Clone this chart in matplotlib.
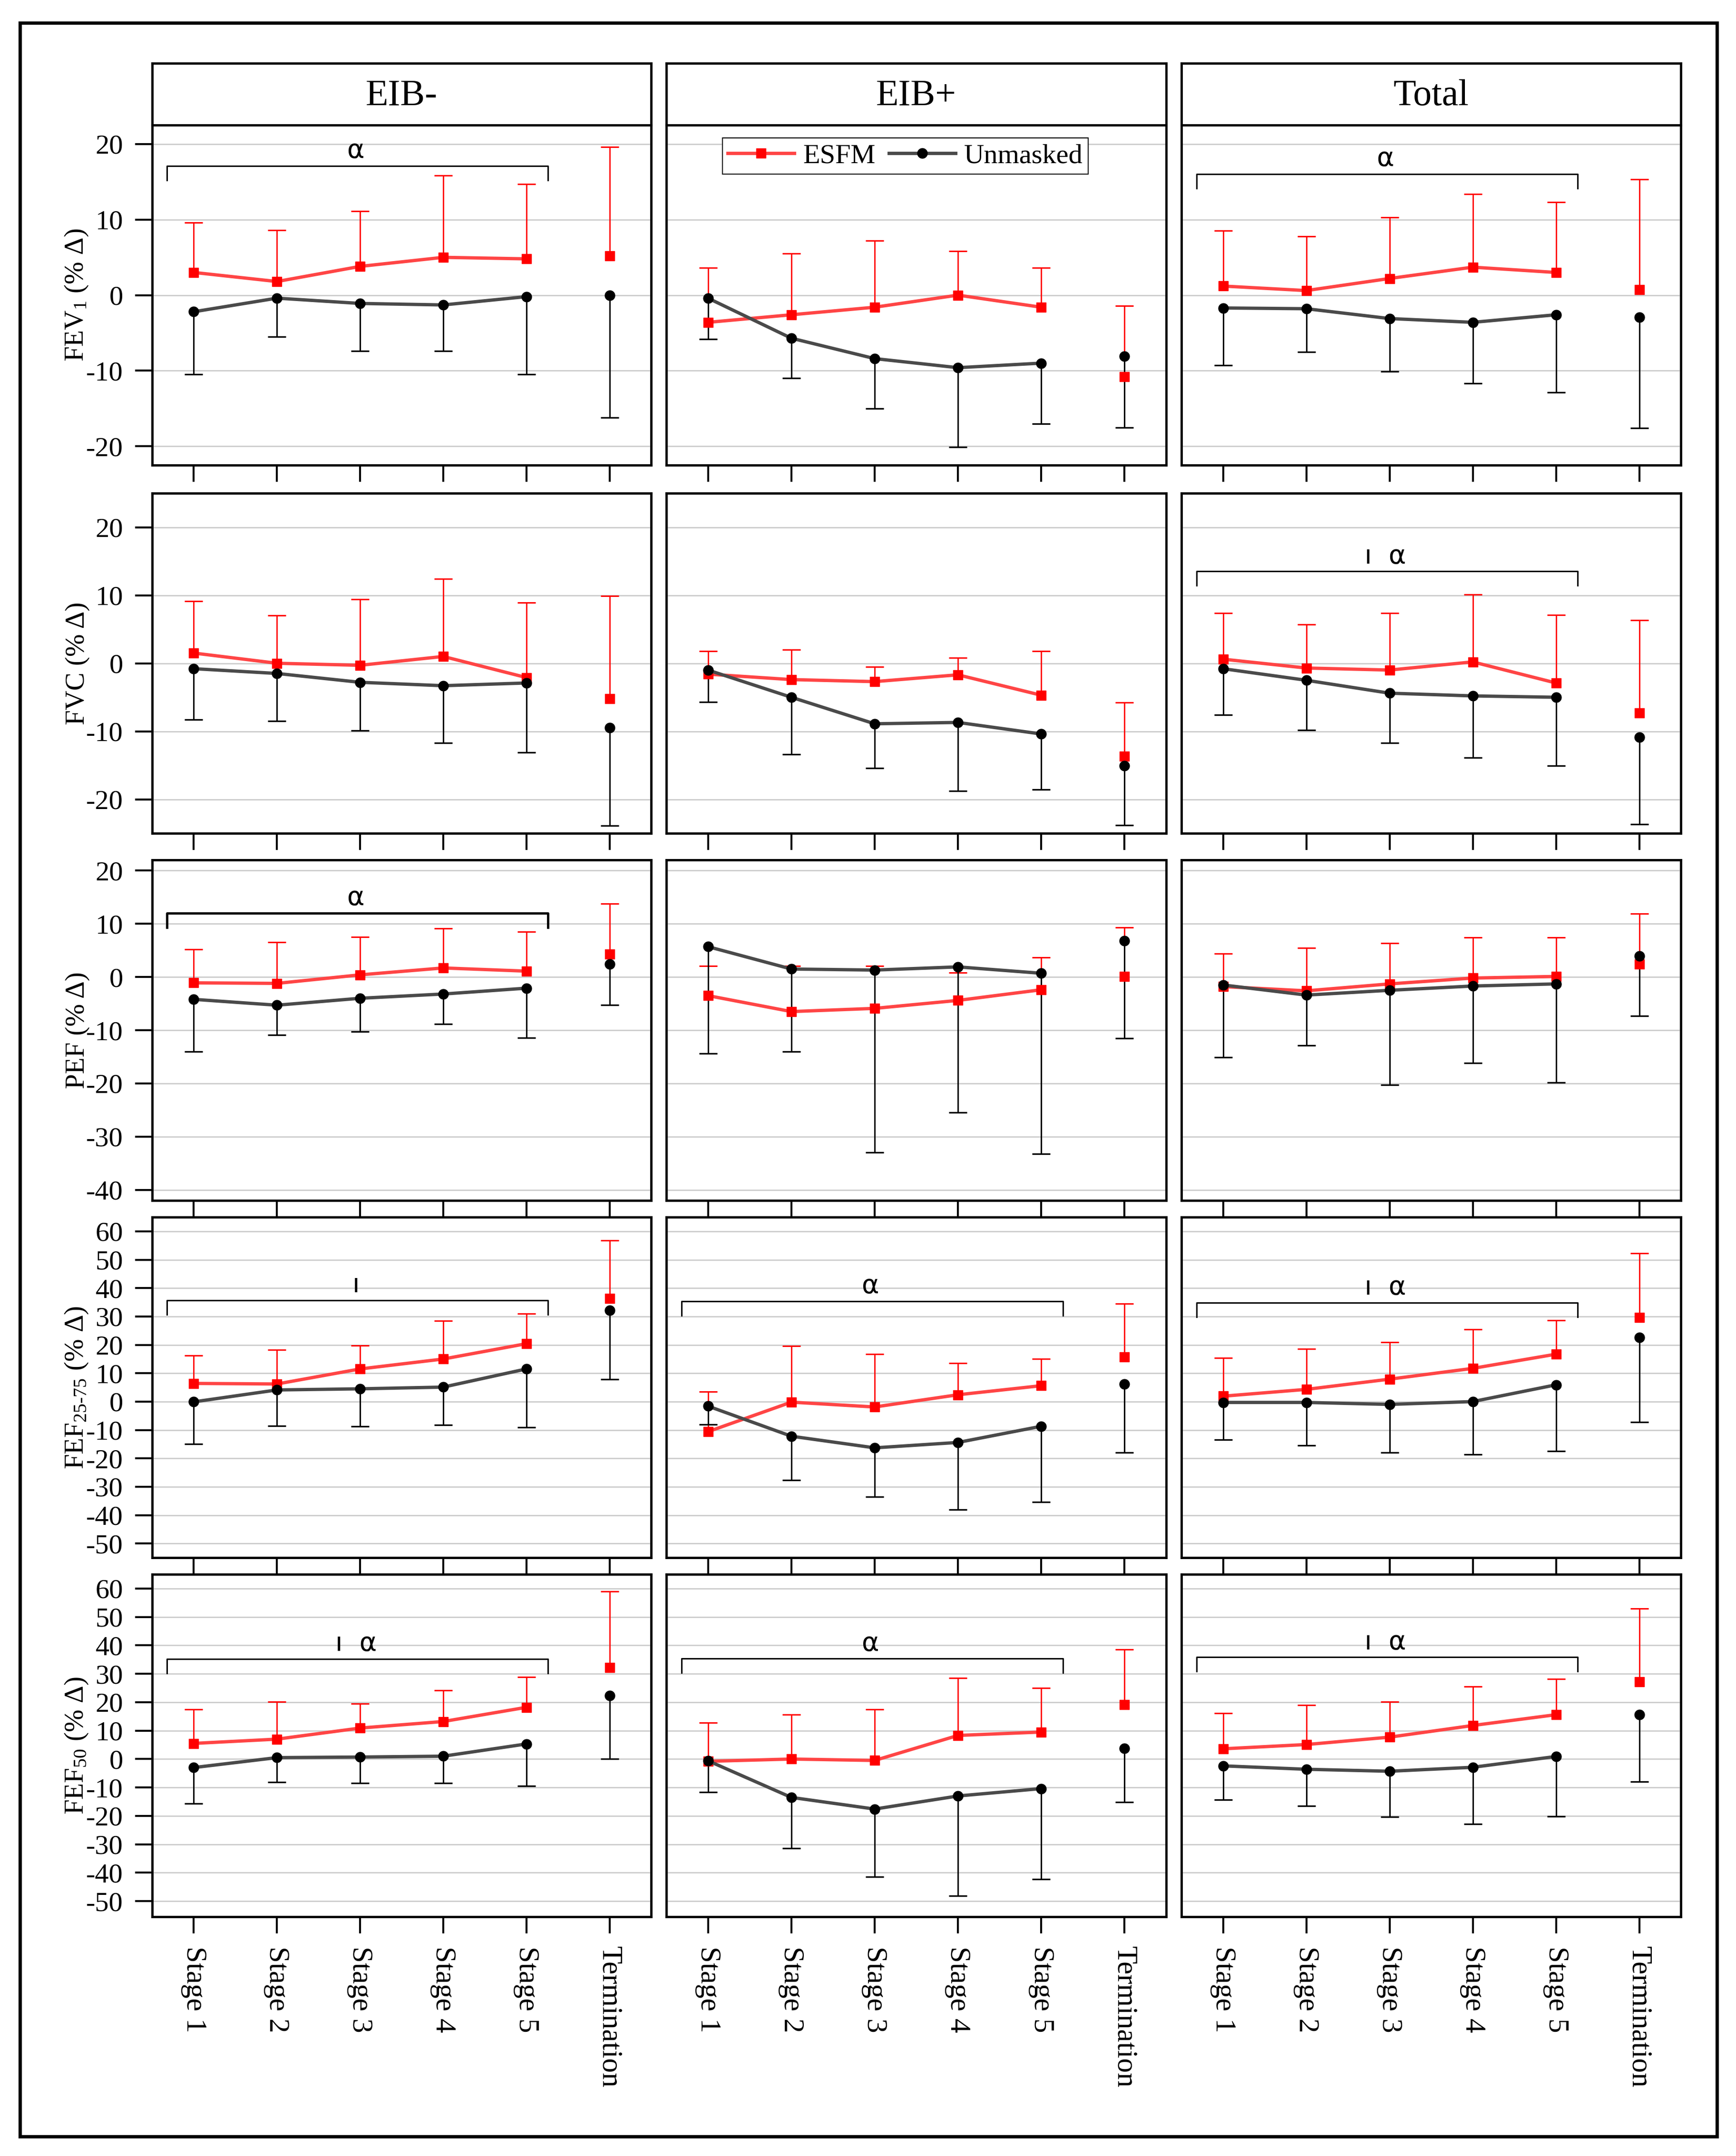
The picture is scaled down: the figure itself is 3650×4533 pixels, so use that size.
"""
Spirometry change from baseline by exercise stage: ESFM vs unmasked
"""

import matplotlib
matplotlib.use('Agg')
import matplotlib.pyplot as plt
from matplotlib.patches import Rectangle
import numpy as np

plt.rcParams.update({
    'font.family': ['Liberation Serif', 'DejaVu Sans'],
    'mathtext.fontset': 'custom',
    'mathtext.rm': 'Liberation Serif',
    'mathtext.it': 'Liberation Serif:italic',
    'axes.unicode_minus': False,
})

stages = ['Stage 1', 'Stage 2', 'Stage 3', 'Stage 4', 'Stage 5', 'Termination']
groups = ['EIB-', 'EIB+', 'Total']

# each measure: [EIB-, EIB+, Total], six values per group (5 stages + termination)
# ESFM means and upper error-bar ends, Unmasked means and lower error-bar ends
fev1_esfm = [[3.0, 1.8, 3.8, 5.0, 4.8, 5.2],
             [-3.6, -2.6, -1.6, 0.0, -1.6, -10.8],
             [1.2, 0.6, 2.2, 3.7, 3.0, 0.7]]
fev1_esfm_hi = [[9.6, 8.6, 11.1, 15.8, 14.7, 19.6],
                [3.6, 5.5, 7.2, 5.8, 3.6, -1.4],
                [8.5, 7.8, 10.3, 13.4, 12.3, 15.3]]
fev1_unm = [[-2.2, -0.4, -1.1, -1.3, -0.2, 0.0],
            [-0.4, -5.7, -8.4, -9.6, -9.0, -8.1],
            [-1.7, -1.8, -3.1, -3.6, -2.6, -2.9]]
fev1_unm_lo = [[-10.5, -5.5, -7.4, -7.4, -10.5, -16.2],
               [-5.8, -11.0, -15.0, -20.1, -17.0, -17.5],
               [-9.3, -7.5, -10.1, -11.7, -12.9, -17.6]]

fvc_esfm = [[1.5, 0.0, -0.3, 1.0, -2.1, -5.2],
            [-1.6, -2.4, -2.7, -1.7, -4.7, -13.7],
            [0.6, -0.7, -1.0, 0.2, -2.9, -7.3]]
fvc_esfm_hi = [[9.1, 7.0, 9.4, 12.4, 8.9, 9.9],
               [1.8, 2.0, -0.5, 0.8, 1.8, -5.8],
               [7.4, 5.7, 7.4, 10.1, 7.1, 6.3]]
fvc_unm = [[-0.8, -1.5, -2.8, -3.3, -2.9, -9.5],
           [-1.0, -5.0, -8.9, -8.7, -10.4, -15.1],
           [-0.8, -2.5, -4.4, -4.8, -5.0, -10.9]]
fvc_unm_lo = [[-8.3, -8.5, -9.9, -11.7, -13.1, -23.9],
              [-5.7, -13.4, -15.4, -18.8, -18.6, -23.8],
              [-7.6, -9.8, -11.7, -13.9, -15.1, -23.7]]

pef_esfm = [[-1.1, -1.2, 0.4, 1.7, 1.1, 4.3],
            [-3.5, -6.5, -5.9, -4.4, -2.4, 0.1],
            [-1.8, -2.6, -1.3, -0.2, 0.1, 2.4]]
pef_esfm_hi = [[5.2, 6.5, 7.5, 9.1, 8.5, 13.8],
               [2.1, 2.1, 2.1, 0.8, 3.7, 9.3],
               [4.4, 5.5, 6.4, 7.4, 7.4, 11.9]]
pef_unm = [[-4.2, -5.3, -4.0, -3.2, -2.1, 2.4],
           [5.7, 1.5, 1.3, 1.9, 0.7, 6.8],
           [-1.5, -3.4, -2.5, -1.7, -1.3, 3.9]]
pef_unm_lo = [[-14.0, -10.9, -10.3, -8.8, -11.4, -5.3],
              [-14.4, -14.0, -33.0, -25.5, -33.2, -11.5],
              [-15.1, -12.9, -20.3, -16.2, -19.8, -7.3]]

fef2575_esfm = [[6.4, 6.2, 11.5, 15.0, 20.4, 36.3],
                [-10.6, -0.2, -1.9, 2.4, 5.6, 15.7],
                [1.9, 4.3, 7.9, 11.7, 16.7, 29.7]]
fef2575_esfm_hi = [[16.3, 18.2, 19.8, 28.4, 30.9, 56.8],
                   [3.5, 19.6, 16.8, 13.6, 15.1, 34.5],
                   [15.4, 18.6, 21.0, 25.5, 28.6, 52.3]]
fef2575_unm = [[-0.1, 4.1, 4.5, 5.1, 11.5, 32.1],
               [-1.6, -12.2, -16.3, -14.4, -8.7, 6.1],
               [-0.3, -0.3, -1.0, 0.0, 5.9, 22.6]]
fef2575_unm_lo = [[-15.0, -8.5, -8.8, -8.3, -9.1, 7.8],
                  [-8.0, -27.6, -33.5, -38.1, -35.4, -17.9],
                  [-13.5, -15.4, -18.0, -18.6, -17.5, -7.2]]

fef50_esfm = [[5.5, 7.0, 10.9, 13.2, 18.2, 32.2],
              [-0.8, 0.0, -0.5, 8.3, 9.5, 19.2],
              [3.6, 5.1, 7.7, 11.8, 15.6, 27.1]]
fef50_esfm_hi = [[17.5, 20.2, 19.4, 24.1, 28.9, 58.9],
                 [12.8, 15.7, 17.5, 28.5, 25.0, 38.5],
                 [16.2, 18.9, 20.2, 25.5, 28.2, 53.0]]
fef50_unm = [[-3.0, 0.5, 0.7, 1.0, 5.3, 22.3],
             [-0.6, -13.5, -17.6, -13.0, -10.4, 3.7],
             [-2.4, -3.6, -4.3, -2.9, 0.9, 15.7]]
fef50_unm_lo = [[-15.7, -8.2, -8.4, -8.5, -9.4, 0.0],
                [-11.7, -31.4, -41.5, -48.1, -42.3, -15.2],
                [-14.4, -16.5, -20.4, -22.9, -20.2, -7.9]]

ylabels = ['FEV$_{1}$ (% Δ)', 'FVC (% Δ)', 'PEF (% Δ)',
           'FEF$_{\\text{25-75}}$ (% Δ)', 'FEF$_{50}$ (% Δ)']
ylims = [(-22.5, 22.5), (-25, 25), (-42, 22), (-55, 65), (-55.5, 65)]
yticks = [range(-20, 21, 10), range(-20, 21, 10), range(-40, 21, 10),
          range(-50, 61, 10), range(-50, 61, 10)]

# significance brackets: (row, col, label, bracket height, bold)
brackets = [(0, 0, 'α', 17.1, False), (0, 2, 'α', 16.0, False),
            (1, 2, 'ı  α', 13.5, False), (2, 0, 'α', 12.0, True),
            (3, 0, 'ı', 35.7, False), (3, 1, 'α', 35.3, False),
            (3, 2, 'ı  α', 34.8, False), (4, 0, 'ı  α', 35.2, False),
            (4, 1, 'α', 35.3, False), (4, 2, 'ı  α', 35.8, False)]

measures = [
    (fev1_esfm, fev1_esfm_hi, fev1_unm, fev1_unm_lo),
    (fvc_esfm, fvc_esfm_hi, fvc_unm, fvc_unm_lo),
    (pef_esfm, pef_esfm_hi, pef_unm, pef_unm_lo),
    (fef2575_esfm, fef2575_esfm_hi, fef2575_unm, fef2575_unm_lo),
    (fef50_esfm, fef50_esfm_hi, fef50_unm, fef50_unm_lo),
]

W, H = 3650, 4533
fig = plt.figure(figsize=(W / 100, H / 100), dpi=100)

col_x = [(320, 1369), (1401, 2452), (2484, 3534)]
row_y = [(263, 978), (1037, 1752), (1808, 2524), (2559, 3275), (3310, 4030)]


def rect(x0, x1, y0, y1):
    return [x0 / W, 1 - y1 / H, (x1 - x0) / W, (y1 - y0) / H]


# outer frame
fig.add_artist(Rectangle((42 / W, 1 - 4492 / H), (3610 - 42) / W, (4492 - 48) / H,
                         transform=fig.transFigure, fill=False, lw=5, ec='black'))

# column headers
for c, name in enumerate(groups):
    hx = fig.add_axes(rect(col_x[c][0], col_x[c][1], 133, 263))
    hx.set_xticks([])
    hx.set_yticks([])
    for s in hx.spines.values():
        s.set_linewidth(3.5)
    hx.text(0.5, 0.47, name, ha='center', va='center', fontsize=56, transform=hx.transAxes)

x = np.arange(len(stages))
red_line = '#ff4545'
grey_line = '#4a4a4a'

for r, (esfm, esfm_hi, unm, unm_lo) in enumerate(measures):
    for c in range(3):
        ax = fig.add_axes(rect(col_x[c][0], col_x[c][1], row_y[r][0], row_y[r][1]))
        e = np.array(esfm[c])
        eh = np.array(esfm_hi[c])
        u = np.array(unm[c])
        ul = np.array(unm_lo[c])

        # error bars (ESFM up, Unmasked down)
        ax.vlines(x, e, eh, color='red', lw=2, zorder=2)
        ax.plot(x, eh, ls='none', marker='_', ms=27, mew=2.2, color='red', zorder=2)
        ax.vlines(x, ul, u, color='black', lw=2.2, zorder=2)
        ax.plot(x, ul, ls='none', marker='_', ms=27, mew=2.4, color='black', zorder=2)

        # lines over the five stages, termination as a lone point
        l1, = ax.plot(x[:5], e[:5], color=red_line, lw=5, marker='s', ms=15,
                      mfc='red', mec='red', zorder=3, label='ESFM')
        ax.plot(x[5], e[5], ls='none', marker='s', ms=15, mfc='red', mec='red', zorder=3)
        l2, = ax.plot(x[:5], u[:5], color=grey_line, lw=5, marker='o', ms=15,
                      mfc='black', mec='black', zorder=4, label='Unmasked')
        ax.plot(x[5], u[5], ls='none', marker='o', ms=15, mfc='black', mec='black', zorder=4)

        ax.set_xlim(-0.5, 5.5)
        ax.set_ylim(*ylims[r])
        ax.set_yticks(list(yticks[r]))
        ax.yaxis.grid(True, color='#cccccc', lw=2)
        ax.set_axisbelow(True)
        for s in ax.spines.values():
            s.set_linewidth(3.5)

        ax.set_xticks(x)
        ax.tick_params(axis='x', direction='out', length=25, width=3, pad=20)
        if r == 4:
            ax.set_xticklabels(stages, rotation=270, fontsize=44, va='top', ha='center')
        else:
            ax.set_xticklabels([])

        if c == 0:
            ax.tick_params(axis='y', direction='out', length=26, width=3, pad=18,
                           labelsize=42)
            ax.set_ylabel(ylabels[r], fontsize=41)
            ax.yaxis.set_label_coords(-0.125, 0.5)
        else:
            ax.tick_params(axis='y', length=0, labelleft=False)

        # significance bracket
        for br, bc, label, yb, bold in brackets:
            if br == r and bc == c:
                lo, hi = ylims[r]
                drop = 30 * (hi - lo) / (row_y[r][1] - row_y[r][0])
                ax.plot([-0.32, -0.32, 4.26, 4.26], [yb - drop, yb, yb, yb - drop],
                        color='black', lw=3.5 if bold else 2.2, zorder=5)
                ax.annotate(label, (1.95, yb), xytext=(0, 23), textcoords='offset points',
                            ha='center', va='center', fontsize=40, family='DejaVu Sans')

        if r == 0 and c == 1:
            ax.legend(handles=[l1, l2], loc='upper left', bbox_to_anchor=(0.112, 0.962),
                      ncol=2, fontsize=42, frameon=True, fancybox=False, edgecolor='black',
                      framealpha=1, handlelength=2.4, handletextpad=0.3, columnspacing=0.5,
                      borderpad=0.2, borderaxespad=0).get_frame().set_linewidth(1.5)

fig.savefig('out.png', dpi=100)
